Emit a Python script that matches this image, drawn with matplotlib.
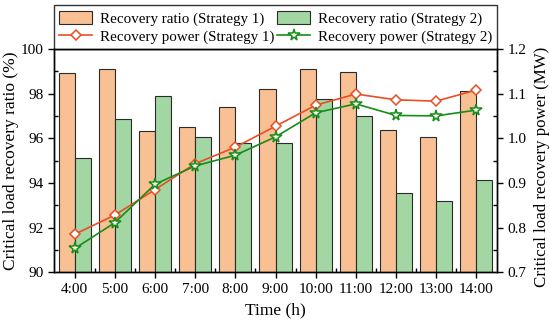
import matplotlib
matplotlib.use("Agg")
import numpy as np
from matplotlib import pyplot as plt
from matplotlib.ticker import MultipleLocator

plt.rcParams['font.family'] = ['Liberation Serif', 'DejaVu Serif']
plt.rcParams['mathtext.fontset'] = 'stix'

hours = ["4:00", "5:00", "6:00", "7:00", "8:00", "9:00", "10:00", "11:00", "12:00", "13:00", "14:00"]

# recovery ratio (%)
ratio_s1 = [98.92, 99.10, 96.34, 96.52, 97.41, 98.19, 99.10, 98.98, 96.37, 96.04, 98.13]
ratio_s2 = [95.13, 96.85, 97.88, 96.07, 95.77, 95.77, 97.74, 97.01, 93.56, 93.17, 94.14]

# recovery power (MW)
power_s1 = [0.785, 0.828, 0.885, 0.943, 0.980, 1.027, 1.074, 1.099, 1.086, 1.083, 1.108]
power_s2 = [0.753, 0.811, 0.897, 0.938, 0.962, 1.003, 1.057, 1.077, 1.051, 1.050, 1.063]

x = np.arange(len(hours))
w = 0.4

fig = plt.figure(figsize=(5.5, 3.24), dpi=100)
ax = fig.add_axes([0.098, 0.160, 0.806, 0.689])

b1 = ax.bar(x - w / 2, ratio_s1, w, color='#F9C193', edgecolor='#2b2b2b', linewidth=0.8,
            label='Recovery ratio (Strategy 1)')
b2 = ax.bar(x + w / 2, ratio_s2, w, color='#A2D7A3', edgecolor='#2b2b2b', linewidth=0.8,
            label='Recovery ratio (Strategy 2)')
ax.set_ylim(90, 100)
ax.set_xlim(-0.52, len(hours) - 0.48)
ax.set_xticks(x)
ax.set_xticklabels(hours)
ax.set_xticks(x[:-1] + 0.5, minor=True)
ax.yaxis.set_major_locator(MultipleLocator(2))
ax.yaxis.set_minor_locator(MultipleLocator(1))
ax.tick_params(which='major', direction='out', length=4, width=1, labelsize=11)
ax.tick_params(which='minor', direction='in', length=3, width=1)
ax.set_xlabel("Time (h)", fontsize=12.5, labelpad=5)
ax.set_ylabel("Critical load recovery ratio (%)", fontsize=12.5, labelpad=1)

ax2 = ax.twinx()
l1, = ax2.plot(x, power_s1, '-D', color='#E94E24', lw=1.2, ms=5.5, mfc='white', mec='#E94E24', mew=1.1,
               label='Recovery power (Strategy 1)')
l2, = ax2.plot(x, power_s2, '-*', color='#178C17', lw=1.2, ms=8.5, mfc='white', mec='#178C17', mew=1.1,
               label='Recovery power (Strategy 2)')
ax2.set_ylim(0.7, 1.2)
ax2.yaxis.set_major_locator(MultipleLocator(0.1))
ax2.yaxis.set_minor_locator(MultipleLocator(0.05))
ax2.tick_params(which='major', direction='out', length=4, width=1, labelsize=11)
ax2.tick_params(which='minor', direction='in', length=3, width=1)
ax2.set_ylabel("Critical load recovery power (MW)", fontsize=12.2)
ax2.yaxis.set_label_coords(1.083, 0.47)

for a in (ax, ax2):
    for s in a.spines.values():
        s.set_linewidth(1)

leg = ax.legend([b1, l1, b2, l2], [h.get_label() for h in (b1, l1, b2, l2)],
                ncol=2, loc='lower left', bbox_to_anchor=(0, 1, 1, 0.2), mode='expand',
                borderaxespad=0, fancybox=False, edgecolor='black', fontsize=10.8,
                handlelength=2.2, handleheight=1.0, columnspacing=1.0, borderpad=0.35,
                labelspacing=0.2, handletextpad=0.5)
leg.get_frame().set_linewidth(1)

fig.savefig("out.png", dpi=100)
